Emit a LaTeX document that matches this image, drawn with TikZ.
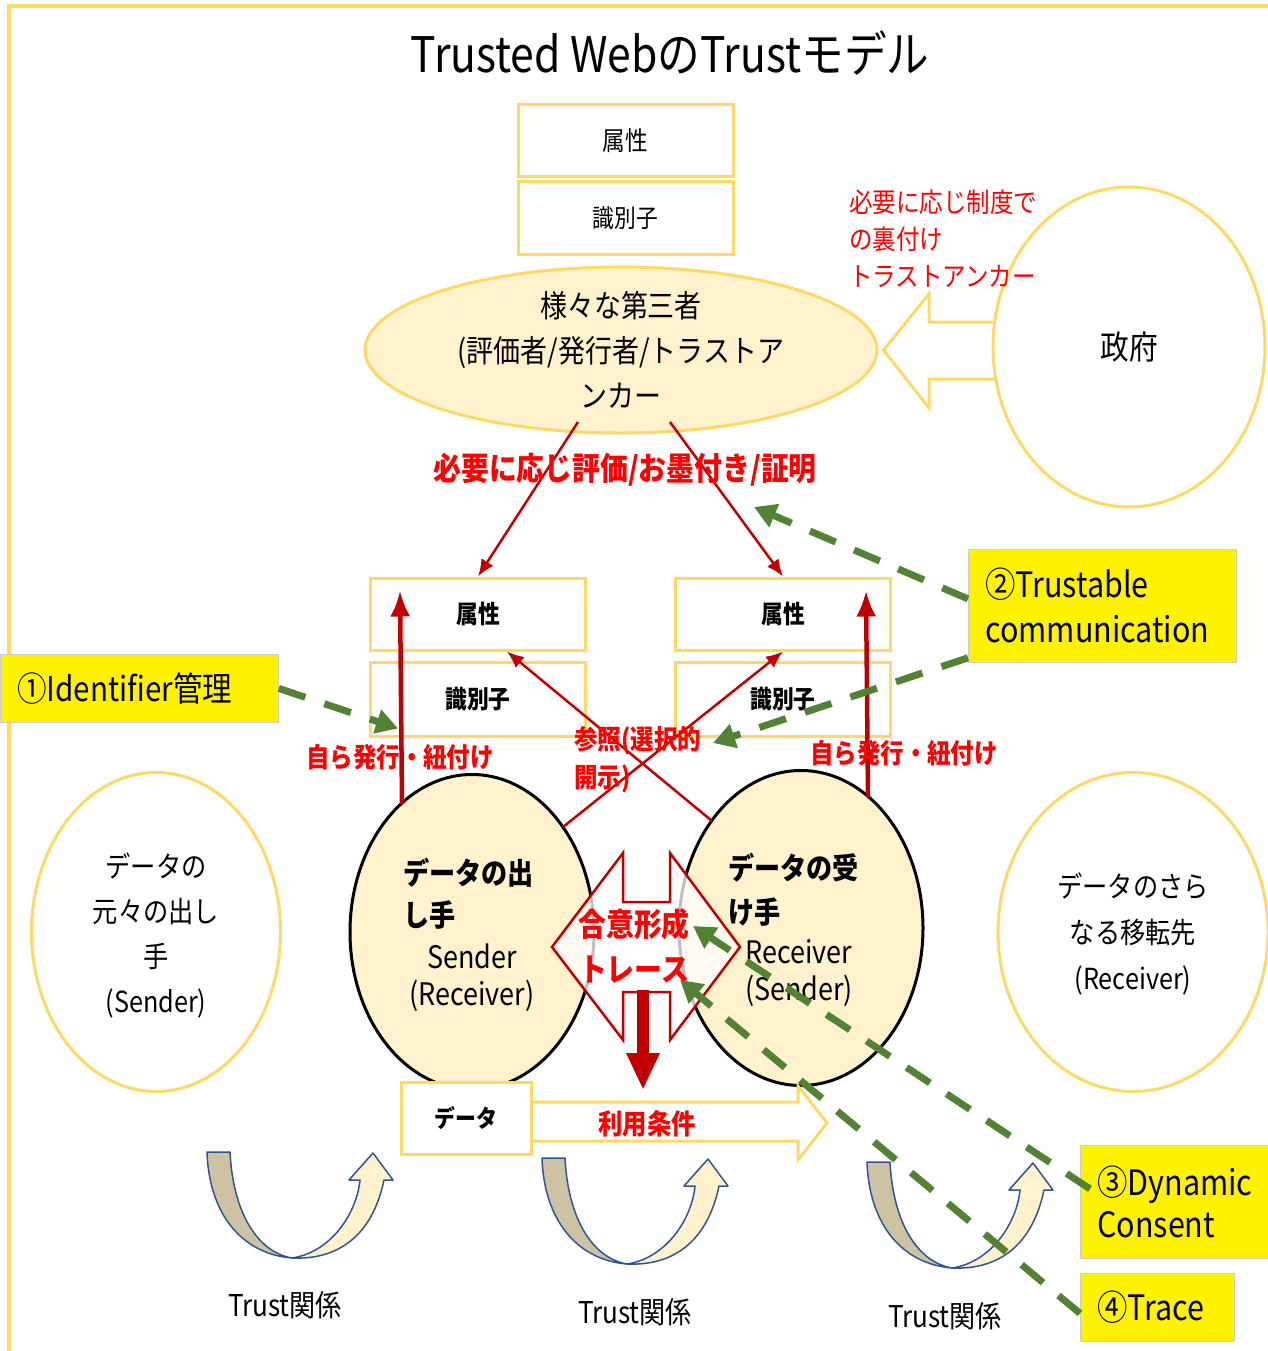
\documentclass[tikz,border=0pt]{standalone}
\usepackage{fontspec}
\setmainfont{Noto Sans CJK JP}[FakeStretch=0.87]
\usetikzlibrary{positioning, shapes.geometric, arrows.meta, calc}

\definecolor{gold}{HTML}{FFD966}
\definecolor{cream}{HTML}{FFF2CC}
\definecolor{darkred}{HTML}{C00000}
\definecolor{leaf}{HTML}{548235}
\definecolor{khaki}{HTML}{CDC3A3}
\definecolor{steel}{HTML}{2F5597}
\newcommand{\fsz}[2]{\fontsize{#1}{#2}\selectfont}

\begin{document}
\begin{tikzpicture}[
    x=1pt, y=-1pt,
    >=LaTeX,
    inner sep=0pt,
    % Styles
    box/.style={ % attribute / identifier box
        rectangle,
        draw=gold,
        line width=3pt,
        fill=white,
        minimum width=215pt,
        minimum height=72pt
    },
    oval/.style={ % yellow outlined ellipse
        ellipse,
        draw=gold,
        line width=3pt
    },
    party/.style={ % sender / receiver
        ellipse,
        draw=black,
        line width=3pt,
        fill=cream,
        minimum width=244pt,
        minimum height=315pt
    },
    callout/.style={ % yellow note
        rectangle,
        draw=black!20,
        line width=0.8pt,
        fill=yellow,
        anchor=north west,
        inner xsep=17pt,
        align=left
    },
    redline/.style={
        draw=darkred,
        line width=2.5pt,
        -{Latex[length=17pt,width=14pt]}
    },
    upline/.style={
        draw=darkred,
        line width=4.5pt,
        -{Latex[length=26pt,width=20pt]}
    },
    hint/.style={ % green dashed pointer
        draw=leaf,
        line width=7pt,
        dash pattern=on 28pt off 20pt,
        -{Triangle[length=22pt,width=24pt]}
    },
    redtext/.style={
        text=red,
        font=\bfseries\fsz{27}{38},
        align=left
    },
    band/.style={
        draw=steel,
        line width=1.5pt,
        line join=round
    }
]
    \useasboundingbox (0,0) rectangle (1268,1351);

    % Frame
    \draw[gold, line width=4pt] (9,1351) -- (9,6) -- (1268,6);

    % Title
    \node[font=\fsz{49}{52}] (title) at (670,53) {Trusted WebのTrustモデル};

    % Third party with its attributes
    \node[box, font=\fsz{26}{30}] (attrtop) at (625.5,140.5) {属性};
    \node[box, font=\fsz{25}{30}] (idtop) at (625.5,218) {識別子};
    \node[oval, fill=cream, minimum width=512pt, minimum height=166pt] (third) at (621,350) {};
    \node[align=center, font=\fsz{31}{45}] (thirdtxt) at (third) {様々な第三者\\(評価者/発行者/トラストア\\ンカー};

    % Government and its block arrow
    \filldraw[draw=gold, fill=white, line width=3pt, line join=miter]
        (1000,322) -- (929,322) -- (929,294) -- ($(third.east)+(5,0)$)
        -- (929,408) -- (929,379) -- (1000,379) -- cycle;
    \node[oval, fill=white, minimum width=272pt, minimum height=320pt] (gov) at (1129,347) {};
    \node[font=\fsz{33}{36}] (govtxt) at (gov) {政府};
    \node[anchor=north west, align=left, text=red, font=\fsz{27}{37}] (govnote) at (849,190)
        {必要に応じ制度で\\の裏付け\\トラストアンカー};

    % Attribute / identifier boxes of both parties
    \node[box, font=\bfseries\fsz{25}{30}] (attrL) at (478,614) {属性};
    \node[box, font=\bfseries\fsz{25}{30}, minimum height=74pt] (idL) at (478,699) {識別子};
    \node[box, font=\bfseries\fsz{25}{30}] (attrR) at (783,614) {属性};
    \node[box, font=\bfseries\fsz{25}{30}, minimum height=74pt] (idR) at (783,699) {識別子};

    % Outer parties
    \node[oval, fill=white, minimum width=249pt, minimum height=319pt] (origin) at (156,932) {};
    \node[align=center, font=\fsz{29}{45}] (origintxt) at (156,935) {データの\\元々の出し\\手\\(Sender)};
    \node[oval, fill=white, minimum width=270pt, minimum height=319pt] (onward) at (1133,932) {};
    \node[align=center, font=\fsz{29}{46}] (onwardtxt) at (1133,934) {データのさら\\なる移転先\\(Receiver)};

    % Sender and receiver
    \node[party] (sender) at (472,932) {};
    \node[party] (receiver) at (801,928) {};

    % Evaluation arrows from the third party
    \draw[redline] ($(third.center)+(-43,72)$) -- (attrL.north);
    \draw[redline] ($(third.center)+(49,72)$) -- (attrR.north);
    \node[text=red, font=\bfseries\fsz{32}{36}] (evallbl) at (625,470) {必要に応じ評価/お墨付き/証明};

    % Self issued attributes
    \draw[upline] ($(sender.center)+(-70,-128)$) -- ($(attrL.north west)+(31,14)$);
    \draw[upline] ($(receiver.center)+(67,-131)$) -- ($(attrR.north west)+(192,14)$);
    \node[redtext] (selfL) at (400,757) {自ら発行・紐付け};
    \node[redtext] (selfR) at (904,753) {自ら発行・紐付け};

    % Cross references
    \draw[redline] ($(sender.center)+(91,-105)$) -- (attrR.south);
    \draw[redline] ($(receiver.center)+(-89,-107)$) -- ($(attrL.south)+(29,0)$);
    \node[redtext, anchor=west] (reflbl) at (574,760) {参照(選択的\\開示)};

    % Party texts
    \node[anchor=west, align=left, font=\bfseries\fsz{30}{42}] (sendjp) at (403,894) {データの出\\し手};
    \node[align=center, font=\fsz{31}{37}] (senden) at (472,978) {Sender\\(Receiver)};
    \node[anchor=west, align=left, font=\bfseries\fsz{30}{44}] (recvjp) at (728,890) {データの受\\け手};
    \node[align=center, font=\fsz{31}{37}] (recven) at (799,973) {Receiver\\(Sender)};

    % Consent / trace double arrow
    \coordinate (consent) at (646,947);
    \begin{scope}[shift={(consent)}]
        \filldraw[draw=darkred, fill=white, fill opacity=0.75, line width=2.5pt, line join=miter]
            (-94,0) -- (-23,-94) -- (-23,-45) -- (24,-45) -- (24,-94) -- (94,0)
            -- (24,93) -- (24,45) -- (-23,45) -- (-23,93) -- cycle;
    \end{scope}
    \draw[darkred, line width=12pt, -{Triangle[length=37pt,width=31pt]}]
        ($(consent)+(-3,43)$) -- ($(consent)+(-3,143)$);
    \node[text=red, align=center, font=\bfseries\fsz{32}{45}] (consenttxt) at (634,946) {合意形成\\トレース};

    % Data and terms of use
    \filldraw[draw=gold, fill=white, line width=3pt, line join=miter]
        (528,1102) -- (798,1102) -- (798,1086) -- (827,1123) -- (798,1160)
        -- (798,1141) -- (528,1141) -- cycle;
    \node[box, minimum width=130pt, minimum height=72pt, font=\bfseries\fsz{24}{28}] (data) at (466,1118) {データ};
    \node[text=red, font=\bfseries\fsz{28}{30}] (terms) at (647,1124) {利用条件};

    % Trust relations
    \foreach \tx/\ty/\lx/\ly [count=\i] in {207/1152/285/1305, 542/1158/635/1312, 867/1162/945/1316} {
        \begin{scope}[shift={(\tx,\ty)}]
            \filldraw[band, fill=khaki] (0,0) -- (23,0) .. controls (26,60) and (50,100) .. (85,106)
                .. controls (35,102) and (2,62) .. (0,0) -- cycle;
            \filldraw[band, fill=cream] (85,106) .. controls (125,100) and (150,60) .. (153,28)
                -- (142,28) -- (166,1) -- (186,28) -- (177,28)
                .. controls (165,85) and (130,108) .. (85,106) -- cycle;
        \end{scope}
        \node[font=\fsz{30}{34}] (trust\i) at (\lx,\ly) {Trust関係};
    }

    % Callouts
    \node[callout, text width=244pt, minimum height=68pt, font=\fsz{34}{40}] (idmgmt) at (0,654) {①Identifier管理};
    \node[callout, text width=234pt, minimum height=113pt, font=\fsz{35}{45}] (trustcom) at (968,549) {②Trustable\\communication};
    \node[callout, text width=180pt, minimum height=113pt, font=\fsz{35}{42}] (dyncons) at (1080,1145) {③Dynamic\\Consent};
    \node[callout, text width=120pt, minimum height=68pt, font=\fsz{35}{40}] (trace) at (1080,1273) {④Trace};

    % Green pointers
    \coordinate (evalpt) at (754,507);
    \coordinate (refpt) at (713,743);
    \draw[hint] (idmgmt.east) -- ($(idL.south west)+(29,-9)$);
    \draw[hint] ($(trustcom.west)+(0,-7)$) -- (evalpt);
    \draw[hint] ($(trustcom.south west)+(0,-5)$) -- (refpt);
    \draw[hint] ($(dyncons.west)+(10,-13)$) -- ($(consent)+(47,-21)$);
    \draw[hint] ($(trace.west)+(0,6)$) -- ($(consent)+(34,33)$);

\end{tikzpicture}
\end{document}
